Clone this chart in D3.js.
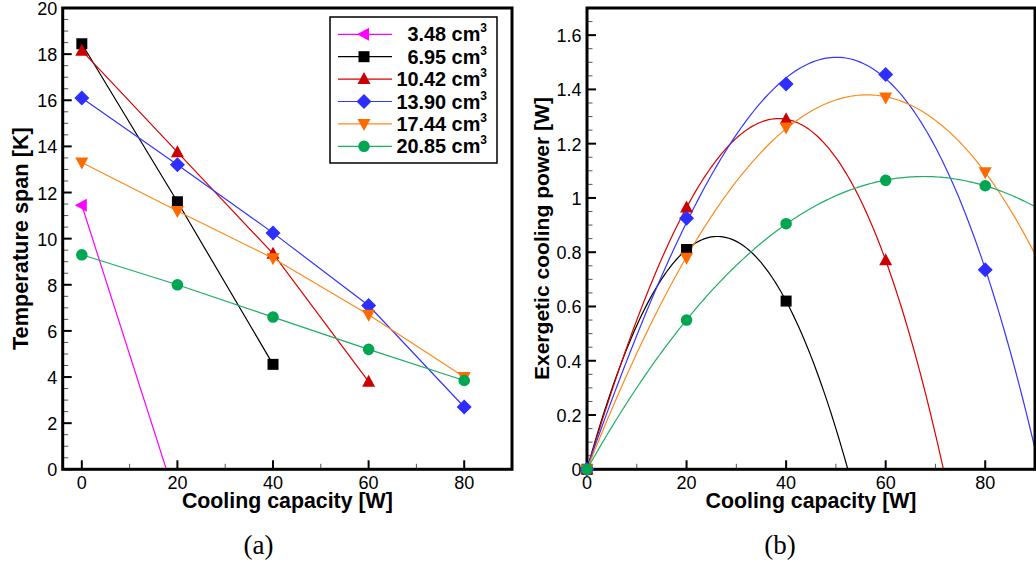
<!DOCTYPE html>
<html><head><meta charset="utf-8">
<script src="https://cdn.jsdelivr.net/npm/d3@7"></script>
<style>body{margin:0;background:#fff;} svg{display:block;}</style>
</head><body>
<svg id="c" width="1036" height="566"></svg>
<script>
// ---------- data ----------
const volumeLabels = ["3.48", "6.95", "10.42", "13.90", "17.44", "20.85"];
const capacity = [0, 20, 40, 60, 80];
// (a) temperature span [K]
const span348 = [11.45, -1.5];
const span695 = [18.45, 11.6, 4.55];
const span1042 = [18.15, 13.75, 9.35, 3.8];
const span1390 = [16.1, 13.2, 10.25, 7.1, 2.7];
const span1744 = [13.3, 11.2, 9.15, 6.7, 4.0];
const span2085 = [9.3, 8.0, 6.6, 5.2, 3.85];
// (b) exergetic cooling power [W]
const exergy695 = [0, 0.81, 0.62];
const exergy1042 = [0, 0.965, 1.29, 0.77];
const exergy1390 = [0, 0.925, 1.42, 1.455, 0.735];
const exergy1744 = [0, 0.78, 1.26, 1.37, 1.095];
const exergy2085 = [0, 0.55, 0.905, 1.065, 1.045];
// axis ticks
const spanTicks = [0, 2, 4, 6, 8, 10, 12, 14, 16, 18, 20];
const exergyTicks = [0, 0.2, 0.4, 0.6, 0.8, 1, 1.2, 1.4, 1.6];
const capTicks = [0, 20, 40, 60, 80];
const xTitle = "Cooling capacity [W]";
const yTitleA = "Temperature span [K]";
const yTitleB = "Exergetic cooling power [W]";

// ---------- styles ----------
const styles = [
  {line: "#ff00ff", fill: "#ff00ff", sym: "left"},
  {line: "#000000", fill: "#000000", sym: "square"},
  {line: "#dd0000", fill: "#cc0000", sym: "up"},
  {line: "#3535ff", fill: "#2e2eff", sym: "diamond"},
  {line: "#ff8a1c", fill: "#ff6a00", sym: "down"},
  {line: "#1daf62", fill: "#00a651", sym: "circle"}
];
const seriesA = [span348, span695, span1042, span1390, span1744, span2085];
const seriesB = [null, exergy695, exergy1042, exergy1390, exergy1744, exergy2085];

const FONT = "'Liberation Sans', Arial, Helvetica, sans-serif";
const svg = d3.select("#c");

function fitWidth(sel, target) {
  const w = sel.node().getComputedTextLength();
  const fs = parseFloat(sel.attr("font-size"));
  if (w > 0) sel.attr("font-size", (fs * target / w).toFixed(2));
}

function markerPath(sym) {
  switch (sym) {
    case "square": return "M-5.5,-5.5H5.5V5.5H-5.5Z";
    case "up": return "M0,-7L6.5,5L-6.5,5Z";
    case "down": return "M0,7L6.5,-5L-6.5,-5Z";
    case "left": return "M-7,0L5,-6.5L5,6.5Z";
    case "diamond": return "M0,-7.5L7.5,0L0,7.5L-7.5,0Z";
    case "circle": return d3.symbol(d3.symbolCircle, Math.PI * 5.8 * 5.8)();
  }
}

function polyfit(xs, ys, deg) {
  const n = deg + 1;
  const u = xs.map(x => x / 20);
  const A = [], b = [];
  for (let i = 0; i < n; i++) {
    A.push([]);
    for (let j = 0; j < n; j++) A[i].push(d3.sum(u, v => Math.pow(v, i + j)));
    b.push(d3.sum(u, (v, k) => Math.pow(v, i) * ys[k]));
  }
  for (let i = 0; i < n; i++) {
    let p = i;
    for (let r = i + 1; r < n; r++) if (Math.abs(A[r][i]) > Math.abs(A[p][i])) p = r;
    [A[i], A[p]] = [A[p], A[i]]; [b[i], b[p]] = [b[p], b[i]];
    for (let r = i + 1; r < n; r++) {
      const f = A[r][i] / A[i][i];
      for (let c = i; c < n; c++) A[r][c] -= f * A[i][c];
      b[r] -= f * b[i];
    }
  }
  const c = new Array(n).fill(0);
  for (let i = n - 1; i >= 0; i--) {
    let s = b[i];
    for (let j = i + 1; j < n; j++) s -= A[i][j] * c[j];
    c[i] = s / A[i][i];
  }
  return x => c.reduce((acc, ci, i) => acc + ci * Math.pow(x / 20, i), 0);
}

function panel(opts) {
  const {x, y, xMajor, xMinor, yMajor, yMinor, yFmt, id} = opts;
  const g = svg.append("g");
  const [x0, x1] = x.range(), [y0, y1] = y.range();
  g.append("clipPath").attr("id", id).append("rect")
    .attr("x", x0).attr("y", y1).attr("width", x1 - x0).attr("height", y0 - y1);
  const plot = g.append("g").attr("clip-path", `url(#${id})`);
  const deco = g.append("g");
  xMinor.forEach(v => deco.append("line").attr("x1", x(v)).attr("x2", x(v)).attr("y1", y0).attr("y2", y0 - 5.5)
    .attr("stroke", "#555").attr("stroke-width", 1));
  yMinor.forEach(v => deco.append("line").attr("x1", x0).attr("x2", x0 + 5.5).attr("y1", y(v)).attr("y2", y(v))
    .attr("stroke", "#555").attr("stroke-width", 1));
  xMajor.forEach(v => deco.append("line").attr("x1", x(v)).attr("x2", x(v)).attr("y1", y0).attr("y2", y0 - 9)
    .attr("stroke", "#000").attr("stroke-width", 2));
  yMajor.forEach(v => deco.append("line").attr("x1", x0).attr("x2", x0 + 9).attr("y1", y(v)).attr("y2", y(v))
    .attr("stroke", "#000").attr("stroke-width", 2));
  deco.append("rect").attr("x", x0).attr("y", y1).attr("width", x1 - x0).attr("height", y0 - y1)
    .attr("fill", "none").attr("stroke", "#000").attr("stroke-width", 3);
  deco.selectAll(".xl").data(xMajor).enter().append("text")
    .attr("x", d => x(d)).attr("y", y0 + 19.5).attr("text-anchor", "middle")
    .attr("font-family", FONT).attr("font-size", 18).text(d => d);
  deco.selectAll(".yl").data(yMajor).enter().append("text")
    .attr("x", x0 - 5.5).attr("y", d => y(d) + 7).attr("text-anchor", "end")
    .attr("font-family", FONT).attr("font-size", 18).text(yFmt);
  const marks = g.append("g");
  return {plot, deco, marks};
}

// ---------- panel (a) ----------
const xa = d3.scaleLinear().domain([-4, 90]).range([62.7, 512]);
const ya = d3.scaleLinear().domain([0, 20]).range([469.3, 8]);
const pa = panel({x: xa, y: ya, xMajor: capTicks, xMinor: d3.range(10, 90, 20),
  yMajor: spanTicks, yMinor: d3.range(0.5, 20, 0.5).filter(v => v % 2 !== 0), yFmt: d => d, id: "clipA"});

seriesA.forEach((vals, i) => {
  const pts = vals.map((v, k) => [capacity[k], v]);
  pa.plot.append("path").datum(pts)
    .attr("d", d3.line().x(d => xa(d[0])).y(d => ya(d[1])))
    .attr("fill", "none").attr("stroke", styles[i].line).attr("stroke-width", 1.2);
});
seriesA.forEach((vals, i) => {
  vals.forEach((v, k) => {
    if (v < 0) return;
    pa.marks.append("path").attr("d", markerPath(styles[i].sym))
      .attr("transform", `translate(${xa(capacity[k])},${ya(v)})`).attr("fill", styles[i].fill);
  });
});

// legend
const leg = svg.append("g");
leg.append("rect").attr("x", 330).attr("y", 17).attr("width", 167).attr("height", 146)
  .attr("fill", "#fff").attr("stroke", "#000").attr("stroke-width", 1.5);
// determine legend font size from reference width of "10.42 cm"
const probe = leg.append("text").attr("font-family", FONT).attr("font-size", 20)
  .attr("font-weight", "bold").text("10.42 cm");
fitWidth(probe, 84);
const legFS = parseFloat(probe.attr("font-size"));
probe.remove();
volumeLabels.forEach((lab, i) => {
  const cy = 34.3 + i * 22.4;
  leg.append("line").attr("x1", 338).attr("x2", 392).attr("y1", cy).attr("y2", cy)
    .attr("stroke", styles[i].line).attr("stroke-width", 1.2);
  leg.append("path").attr("d", markerPath(styles[i].sym)).attr("transform", `translate(364,${cy})`)
    .attr("fill", styles[i].fill);
  const t = leg.append("text").attr("x", 487).attr("y", cy + 7).attr("text-anchor", "end")
    .attr("font-family", FONT).attr("font-size", legFS).attr("font-weight", "bold");
  t.append("tspan").text(lab + " cm");
  t.append("tspan").attr("dy", -9).attr("font-size", 12).text("3");
});

// ---------- panel (b) ----------
const xb = d3.scaleLinear().domain([0, 90]).range([587, 1035]);
const yb = d3.scaleLinear().domain([0, 1.7]).range([469.3, 8]);
const pb = panel({x: xb, y: yb, xMajor: capTicks, xMinor: d3.range(10, 90, 20),
  yMajor: exergyTicks, yMinor: d3.range(1, 35).map(k => k * 0.05).filter(v => Math.abs(v / 0.2 - Math.round(v / 0.2)) > 1e-6),
  yFmt: d3.format("~g"), id: "clipB"});

seriesB.forEach((vals, i) => {
  if (!vals) return;
  const xs = capacity.slice(0, vals.length);
  const f = polyfit(xs, vals, Math.min(3, vals.length - 1));
  const samples = d3.range(0, 90.01, 0.5).map(xv => [xv, f(xv)]);
  pb.plot.append("path").datum(samples)
    .attr("d", d3.line().x(d => xb(d[0])).y(d => yb(d[1])))
    .attr("fill", "none").attr("stroke", styles[i].line).attr("stroke-width", 1.2);
});
seriesB.forEach((vals, i) => {
  if (!vals) return;
  vals.forEach((v, k) => {
    pb.marks.append("path").attr("d", markerPath(styles[i].sym))
      .attr("transform", `translate(${xb(capacity[k])},${yb(v)})`).attr("fill", styles[i].fill);
  });
});

// ---------- titles ----------
function title(txt, x, y, rot, width) {
  const t = svg.append("text").attr("transform", `translate(${x},${y}) rotate(${rot})`)
    .attr("text-anchor", "middle").attr("font-family", FONT).attr("font-size", 21)
    .attr("font-weight", "bold").text(txt);
  fitWidth(t, width);
}
title(xTitle, (62.7 + 512) / 2, 508, 0, 211);
title(xTitle, (587 + 1035) / 2, 508, 0, 211);
title(yTitleA, 28, 238.6, -90, 223);
title(yTitleB, 549, 238.6, -90, 283);

const SERIF = "'Liberation Serif', 'DejaVu Serif', serif";
svg.append("text").attr("x", 258.5).attr("y", 554).attr("text-anchor", "middle")
  .attr("font-family", SERIF).attr("font-size", 27).text("(a)");
svg.append("text").attr("x", 780).attr("y", 554).attr("text-anchor", "middle")
  .attr("font-family", SERIF).attr("font-size", 27).text("(b)");
</script>
</body></html>
